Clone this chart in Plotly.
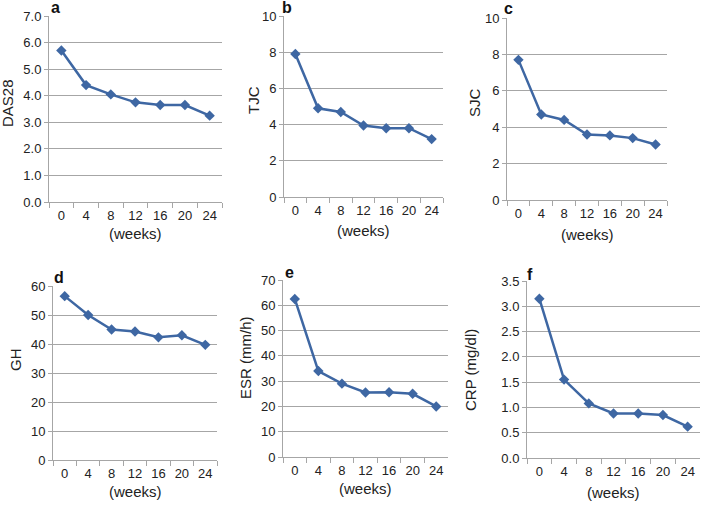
import plotly.graph_objects as go

weeks = ["0", "4", "8", "12", "16", "20", "24"]
das28 = [5.7, 4.4, 4.05, 3.75, 3.65, 3.65, 3.25]
tjc = [7.9, 4.9, 4.7, 3.95, 3.8, 3.8, 3.2]
sjc = [7.7, 4.7, 4.4, 3.6, 3.55, 3.4, 3.05]
gh = [56.5, 50.0, 45.0, 44.3, 42.3, 43.0, 39.7]
esr = [62.5, 34.0, 29.0, 25.5, 25.6, 25.0, 20.0]
crp = [3.15, 1.55, 1.08, 0.88, 0.88, 0.85, 0.62]

W, H = 706, 506
LINE = "#3E67A3"
GRID = "#A6A6A6"
FONT = "Liberation Sans, Arial, sans-serif"


def px(x):
    return x / W


def py(y):
    return 1 - y / H


panels = [
    ("a", "DAS28", das28, 7, 1, ".1f", (49, 222, 16, 202), (49, 7), 8, 103, 233),
    ("b", "TJC", tjc, 10, 2, "d", (284, 443, 16, 197), (280, 7), 254, 100, 230),
    ("c", "SJC", sjc, 10, 2, "d", (507, 667, 18, 200), (502, 8), 475, 103, 234),
    ("d", "GH", gh, 60, 10, "d", (53, 217, 286, 460), (52, 277), 15, 360, 491),
    ("e", "ESR (mm/h)", esr, 70, 10, "d", (283, 448, 280, 457), (283, 272), 245, 358, 488),
    ("f", "CRP (mg/dl)", crp, 3.5, 0.5, ".1f", (527, 700, 281, 458), (525, 274), 470, 370, 492),
]

fig = go.Figure()
annotations = []
for i, (letter, ytitle, vals, ymax, dt, fmt, box, lp, tx, ty, wy) in enumerate(panels, start=1):
    x0, x1, yt, yb = box
    xa = "x" if i == 1 else f"x{i}"
    ya = "y" if i == 1 else f"y{i}"
    fig.add_trace(go.Scatter(
        x=weeks, y=vals, mode="lines+markers",
        line=dict(color=LINE, width=2.5),
        marker=dict(symbol="diamond", size=8, color=LINE),
        xaxis=xa, yaxis=ya, showlegend=False, hoverinfo="x+y",
    ))
    xkey = "xaxis" if i == 1 else f"xaxis{i}"
    ykey = "yaxis" if i == 1 else f"yaxis{i}"
    fig.update_layout(**{
        xkey: dict(
            domain=[px(x0), px(x1)], anchor=ya, type="category",
            categoryorder="array", categoryarray=weeks,
            range=[-0.5, 6.5], showgrid=False, showline=True,
            linecolor=GRID, linewidth=1, ticks="outside", tickson="boundaries",
            ticklen=5, tickcolor=GRID, tickangle=0, ticklabelstandoff=1,
            tickfont=dict(family=FONT, size=13, color="#222"),
            zeroline=False, fixedrange=True, automargin=False,
        ),
        ykey: dict(
            domain=[py(yb), py(yt)], anchor=xa,
            range=[0, ymax], dtick=dt, tick0=0, tickformat=fmt,
            showgrid=True, gridcolor=GRID, gridwidth=1,
            showline=True, linecolor=GRID, linewidth=1,
            ticks="outside", ticklen=4, tickcolor=GRID,
            tickfont=dict(family=FONT, size=13, color="#222"),
            zeroline=False, fixedrange=True, automargin=False,
        ),
    })
    annotations.append(dict(
        text=f"<b>{letter}</b>", x=px(lp[0]), y=py(lp[1]), xref="paper", yref="paper",
        xanchor="left", yanchor="middle", showarrow=False,
        font=dict(family=FONT, size=16, color="#111"),
    ))
    annotations.append(dict(
        text=ytitle, x=px(tx), y=py(ty), xref="paper", yref="paper",
        xanchor="center", yanchor="middle", showarrow=False, textangle=-90,
        font=dict(family=FONT, size=15, color="#222"),
    ))
    annotations.append(dict(
        text="(weeks)", x=px((x0 + x1) / 2), y=py(wy), xref="paper", yref="paper",
        xanchor="center", yanchor="middle", showarrow=False,
        font=dict(family=FONT, size=15, color="#222"),
    ))

fig.update_layout(
    width=W, height=H, margin=dict(l=0, r=0, t=0, b=0, autoexpand=False),
    paper_bgcolor="white", plot_bgcolor="white",
    annotations=annotations,
)
fig.write_html(
    "out.html",
    config={"displayModeBar": False},
    post_script="document.body.style.margin='0';document.body.style.overflow='hidden';",
)
